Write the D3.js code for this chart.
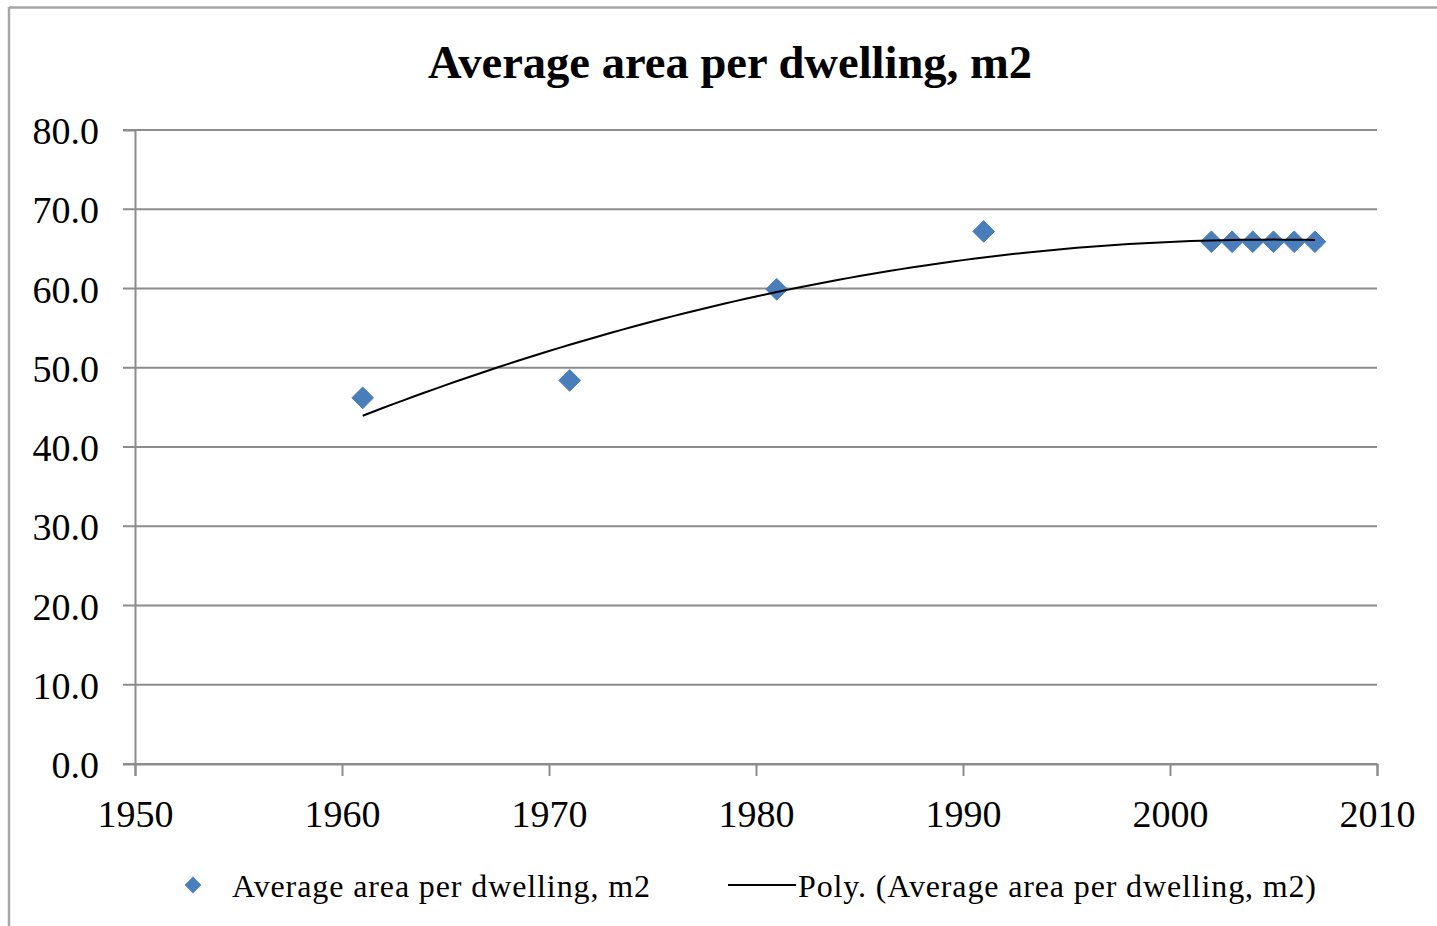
<!DOCTYPE html>
<html>
<head>
<meta charset="utf-8">
<script src="https://cdn.jsdelivr.net/npm/d3@7"></script>
<style>
  body { margin: 0; background: #fff; }
  svg { display: block; }
  text { font-family: "Liberation Serif", "Times New Roman", serif; fill: #000; }
</style>
</head>
<body>
<svg id="chart" width="1437" height="926"></svg>
<script>
// data
const years = [1961, 1971, 1981, 1991, 2002, 2003, 2004, 2005, 2006, 2007];
const areas = [46.2, 48.4, 59.9, 67.2, 65.9, 65.9, 65.9, 65.9, 65.9, 65.9];
const xTicks = [1950, 1960, 1970, 1980, 1990, 2000, 2010];
const yTicks = [0, 10, 20, 30, 40, 50, 60, 70, 80];

const svg = d3.select("#chart");
const W = 1437, H = 926;
const plotL = 135, plotR = 1377, plotT = 130, plotB = 764;

// chart frame (only top and left edges visible)
svg.append("line").attr("x1", 9).attr("y1", 7.5).attr("x2", W).attr("y2", 7.5)
  .attr("stroke", "#a6a6a6").attr("stroke-width", 2.5);
svg.append("line").attr("x1", 9).attr("y1", 7).attr("x2", 9).attr("y2", H)
  .attr("stroke", "#a6a6a6").attr("stroke-width", 2.5);

const x = d3.scaleLinear().domain([1950, 2010]).range([plotL, plotR]);
const y = d3.scaleLinear().domain([0, 80]).range([plotB, plotT]);

// title
svg.append("text").attr("x", 428).attr("y", 78)
  .style("font-size", "46px").style("font-weight", "bold")
  .attr("textLength", 604).attr("lengthAdjust", "spacingAndGlyphs")
  .text("Average area per  dwelling,  m2");

// gridlines
svg.append("g").selectAll("line").data(yTicks).join("line")
  .attr("x1", plotL - 12).attr("x2", plotR)
  .attr("y1", d => y(d)).attr("y2", d => y(d))
  .attr("stroke", "#8c8c8c").attr("stroke-width", 1.8);

// y axis
const yAxis = svg.append("g").attr("transform", `translate(${plotL},0)`)
  .call(d3.axisLeft(y).tickValues(yTicks).tickFormat(d3.format(".1f")).tickSize(12).tickPadding(24));
yAxis.attr("font-family", null);
yAxis.select(".domain").attr("stroke", "#8c8c8c").attr("stroke-width", 2);
yAxis.selectAll(".tick line").attr("stroke", "none");
yAxis.selectAll("text").style("font-size", "38px").attr("dy", "0.36em");

// x axis
const xAxis = svg.append("g").attr("transform", `translate(0,${plotB})`)
  .call(d3.axisBottom(x).tickValues(xTicks).tickFormat(d3.format("d")).tickSize(12).tickPadding(24));
xAxis.attr("font-family", null);
xAxis.select(".domain").attr("stroke", "#8c8c8c").attr("stroke-width", 2);
xAxis.selectAll(".tick line").attr("stroke", "#8c8c8c").attr("stroke-width", 2);
xAxis.selectAll("text").style("font-size", "38px").attr("dy", "0.71em");

// polynomial (order 2) least squares trendline, as the spreadsheet does
function polyFit2(xs, ys) {
  const x0 = d3.mean(xs);
  const u = xs.map(v => v - x0);
  const s = k => d3.sum(u, v => Math.pow(v, k));
  const t = k => d3.sum(u, (v, i) => Math.pow(v, k) * ys[i]);
  const A = [[xs.length, s(1), s(2)], [s(1), s(2), s(3)], [s(2), s(3), s(4)]];
  const b = [t(0), t(1), t(2)];
  for (let i = 0; i < 3; i++) {
    for (let j = i + 1; j < 3; j++) {
      const f = A[j][i] / A[i][i];
      for (let k = i; k < 3; k++) A[j][k] -= f * A[i][k];
      b[j] -= f * b[i];
    }
  }
  const c = [0, 0, 0];
  for (let i = 2; i >= 0; i--) {
    let v = b[i];
    for (let k = i + 1; k < 3; k++) v -= A[i][k] * c[k];
    c[i] = v / A[i][i];
  }
  return xv => c[0] + c[1] * (xv - x0) + c[2] * (xv - x0) * (xv - x0);
}
const trend = polyFit2(years, areas);
const trendPts = d3.range(years[0], years[years.length - 1] + 0.01, 0.5).map(v => [v, trend(v)]);

// markers
const diamond = d3.symbol().type(d3.symbolDiamond2).size(300);
svg.append("g").selectAll("path").data(years).join("path")
  .attr("d", diamond)
  .attr("transform", (d, i) => `translate(${x(d)},${y(areas[i])})`)
  .attr("fill", "#4a7ebb").attr("stroke", "#4a7ebb").attr("stroke-width", 1);

svg.append("path").datum(trendPts)
  .attr("d", d3.line().x(d => x(d[0])).y(d => y(d[1])))
  .attr("fill", "none").attr("stroke", "#000").attr("stroke-width", 2);

// legend
const lg = svg.append("g");
lg.append("path").attr("d", d3.symbol().type(d3.symbolDiamond2).size(180))
  .attr("transform", "translate(193,885)").attr("fill", "#4a7ebb");
lg.append("text").attr("x", 232).attr("y", 897).style("font-size", "32px")
  .attr("textLength", 418).attr("lengthAdjust", "spacing")
  .text("Average area per dwelling, m2");
lg.append("line").attr("x1", 728).attr("x2", 796).attr("y1", 885).attr("y2", 885)
  .attr("stroke", "#000").attr("stroke-width", 2);
lg.append("text").attr("x", 798).attr("y", 897).style("font-size", "32px")
  .attr("textLength", 518).attr("lengthAdjust", "spacing")
  .text("Poly. (Average area per dwelling, m2)");
</script>
</body>
</html>
